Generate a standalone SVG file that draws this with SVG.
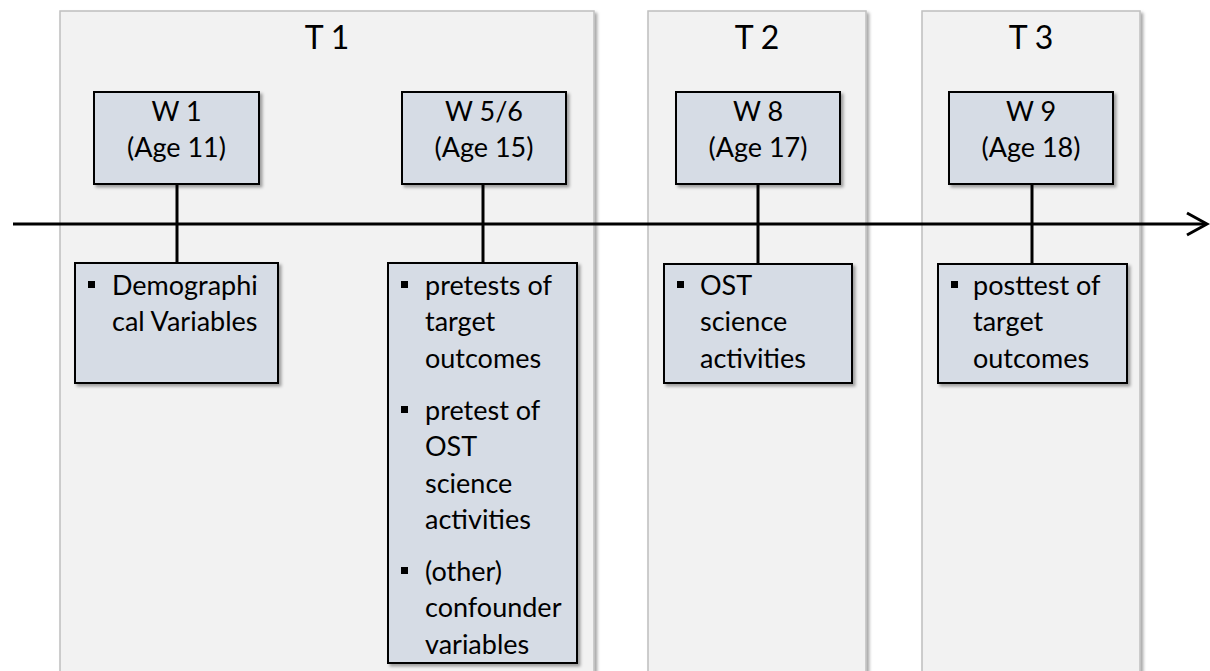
<svg xmlns="http://www.w3.org/2000/svg" width="1210" height="671" viewBox="0 0 1210 671">
<style>
.panel{fill:#f2f2f2;stroke:#bfbfbf;stroke-width:1.5}
.box{fill:#d6dce5;stroke:#000;stroke-width:2}
.t{font-family:Lato,"Open Sans","Liberation Sans",sans-serif;fill:#000}
.tl{font-size:32px;text-anchor:middle}
.wl{font-size:27px;text-anchor:middle}
.bl{font-size:27px}
.conn{stroke:#000;stroke-width:3;fill:none}
</style>
<defs>
<filter id="sh" x="-10%" y="-10%" width="130%" height="130%">
<feDropShadow dx="2.5" dy="2.5" stdDeviation="1.5" flood-color="#000" flood-opacity="0.35"/>
</filter>
</defs>
<rect width="1210" height="671" fill="#fff"/>
<g id="panel-t1"><rect class="panel" x="60" y="11" width="534" height="670" filter="url(#sh)"/><text class="t tl" x="327" y="49">T 1</text></g>
<g id="panel-t2"><rect class="panel" x="648" y="11" width="218" height="670" filter="url(#sh)"/><text class="t tl" x="757" y="49">T 2</text></g>
<g id="panel-t3"><rect class="panel" x="922" y="11" width="218" height="670" filter="url(#sh)"/><text class="t tl" x="1031" y="49">T 3</text></g>
<g id="connectors">
<line class="conn" x1="13" y1="224" x2="1206" y2="224"/>
<polyline class="conn" points="1187,213 1207,224 1187,235"/>
<line class="conn" x1="177" y1="184" x2="177" y2="263"/>
<line class="conn" x1="483" y1="184" x2="483" y2="263"/>
<line class="conn" x1="758" y1="184" x2="758" y2="264"/>
<line class="conn" x1="1032" y1="184" x2="1032" y2="264"/>
</g>
<g id="w1"><rect class="box" x="94" y="92" width="165" height="92" filter="url(#sh)"/><text class="t wl" x="176.5" y="121">W 1</text><text class="t wl" x="176.5" y="157">(Age 11)</text></g>
<g id="w56"><rect class="box" x="402" y="92" width="164" height="92" filter="url(#sh)"/><text class="t wl" x="484" y="121">W 5/6</text><text class="t wl" x="484" y="157">(Age 15)</text></g>
<g id="w8"><rect class="box" x="676" y="92" width="164" height="92" filter="url(#sh)"/><text class="t wl" x="758" y="121">W 8</text><text class="t wl" x="758" y="157">(Age 17)</text></g>
<g id="w9"><rect class="box" x="949" y="92" width="164" height="92" filter="url(#sh)"/><text class="t wl" x="1031" y="121">W 9</text><text class="t wl" x="1031" y="157">(Age 18)</text></g>
<g id="demo"><rect class="box" x="75" y="263" width="203" height="120" filter="url(#sh)"/>
<rect x="88" y="281" width="7" height="7"/>
<text class="t bl" x="112" y="295">Demographi</text><text class="t bl" x="112" y="331">cal Variables</text></g>
<g id="pre"><rect class="box" x="388" y="263" width="189" height="400" filter="url(#sh)"/>
<rect x="401" y="281" width="7" height="7"/><rect x="401" y="406" width="7" height="7"/><rect x="401" y="567" width="7" height="7"/>
<text class="t bl" x="425" y="295">pretests of</text><text class="t bl" x="425" y="331">target</text><text class="t bl" x="425" y="368">outcomes</text>
<text class="t bl" x="425" y="420">pretest of</text><text class="t bl" x="425" y="456">OST</text><text class="t bl" x="425" y="493">science</text><text class="t bl" x="425" y="529">activities</text>
<text class="t bl" x="425" y="581">(other)</text><text class="t bl" x="425" y="617">confounder</text><text class="t bl" x="425" y="654">variables</text></g>
<g id="ost"><rect class="box" x="664" y="264" width="188" height="119" filter="url(#sh)"/>
<rect x="677" y="281" width="7" height="7"/>
<text class="t bl" x="700" y="295">OST</text><text class="t bl" x="700" y="331">science</text><text class="t bl" x="700" y="368">activities</text></g>
<g id="post"><rect class="box" x="938" y="264" width="189" height="119" filter="url(#sh)"/>
<rect x="951" y="281" width="7" height="7"/>
<text class="t bl" x="973" y="295">posttest of</text><text class="t bl" x="973" y="331">target</text><text class="t bl" x="973" y="368">outcomes</text></g>
</svg>
